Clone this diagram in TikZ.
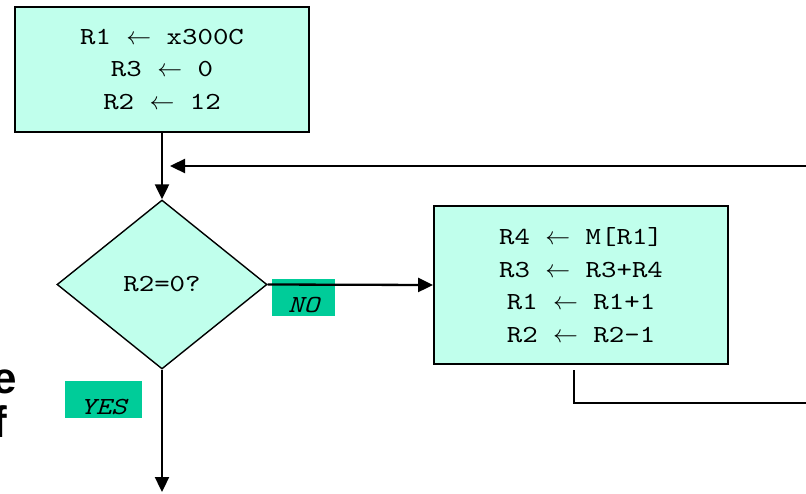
\documentclass[tikz,border=0pt]{standalone}
\usepackage{fontspec}
\setmainfont{Liberation Serif}
\newfontfamily\monof{lmmono10-regular.otf}[ItalicFont=lmmono10-italic.otf, FakeStretch=1.2]
\newfontfamily\sansf{Liberation Sans}
\usetikzlibrary{shapes.geometric,arrows.meta}
\definecolor{lightaqua}{RGB}{192,255,236}
\definecolor{labgreen}{RGB}{0,204,153}
\begin{document}
\begin{tikzpicture}[x=1pt,y=-1pt,
  codetext/.style={font=\monof\fontsize{24.5}{32.5}\selectfont, align=center},
  stepbox/.style={draw=black, line width=1.8pt, fill=lightaqua, inner sep=0pt, codetext},
  decbox/.style={diamond, draw=black, line width=1.4pt, fill=lightaqua, inner sep=0pt, codetext},
  labbox/.style={fill=labgreen, inner sep=0pt, font=\monof\itshape\fontsize{24.5}{30}\selectfont, text height=29pt, text depth=0pt},
  conn/.style={line width=2.3pt, draw=black},
  arr/.style={conn, -{Triangle[width=14pt,length=15pt]}},
  bigletter/.style={font=\sansf\bfseries\fontsize{44}{44}\selectfont, inner sep=0pt}
]
\useasboundingbox (0,0) rectangle (806,493);
\clip (0,0) rectangle (806,493);

% partial letters at the left edge
\node[bigletter, anchor=base east] (le) at (17.5,393) {e};
\node[bigletter, anchor=base west] (lf) at (-8,437) {f};

% boxes
\node[stepbox, minimum width=294pt, minimum height=125pt] (init) at (162,69.5)
  {R1 $\leftarrow$ x300C\\R3 $\leftarrow$ 0\\R2 $\leftarrow$ 12};
\node[decbox, minimum width=210pt, minimum height=169pt] (dec) at (162,284.5) {R2=0?};
\node[stepbox, minimum width=294pt, minimum height=158pt] (body) at (581,285)
  {R4 $\leftarrow$ M[R1]\\R3 $\leftarrow$ R3+R4\\R1 $\leftarrow$ R1+1\\R2 $\leftarrow$ R2-1};

% labels
\node[labbox, minimum width=63pt, minimum height=37pt] (nolab) at (303.5,297.5) {NO};
\node[labbox, minimum width=77pt, minimum height=37pt] (yeslab) at (103.5,399.5) {YES};

% coordinates for free ends
\coordinate (fbR) at (806,166);
\coordinate (fbL) at (170,166);
\coordinate (exit) at (162,492);
\coordinate (ret0) at (574,370);
\coordinate (ret1) at (574,403);
\coordinate (ret2) at (806,403);

% connectors
\draw[arr] (init.south) -- (dec.north);
\draw[arr] (fbR) -- (fbL);
\draw[arr] (dec.east) -- (body.west);
\draw[arr] (dec.south) -- (exit);
\draw[conn, line width=1.8pt] (ret0) -- (ret1) -- (ret2);
\end{tikzpicture}
\end{document}
